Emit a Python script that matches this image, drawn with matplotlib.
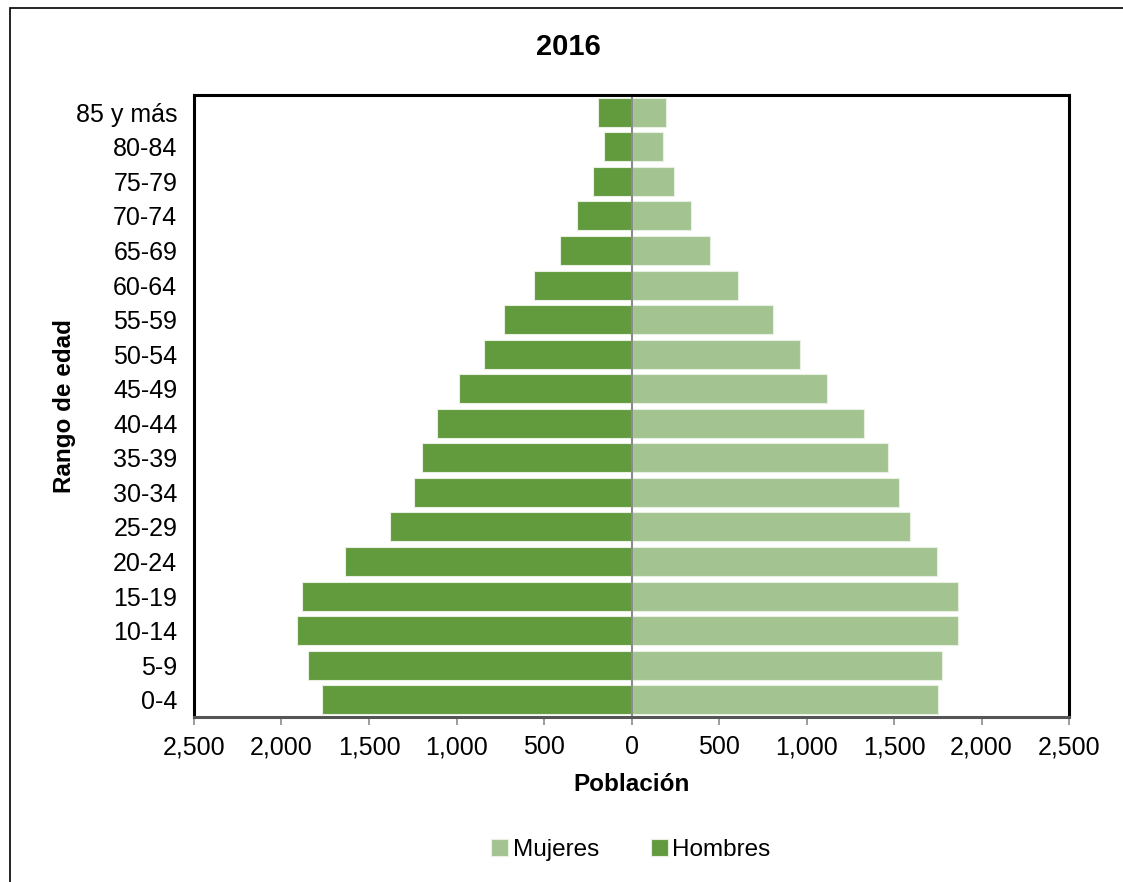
import matplotlib.pyplot as plt
import numpy as np
from matplotlib.patches import Rectangle
from matplotlib.ticker import FuncFormatter

plt.rcParams['font.family'] = ['Liberation Sans', 'DejaVu Sans']

# age groups from bottom to top
grupos = ['0-4', '5-9', '10-14', '15-19', '20-24', '25-29', '30-34', '35-39',
          '40-44', '45-49', '50-54', '55-59', '60-64', '65-69', '70-74',
          '75-79', '80-84', '85 y más']
hombres = [1769, 1851, 1914, 1880, 1639, 1380, 1244, 1200,
           1112, 986, 843, 727, 557, 406, 313, 218, 156, 190]
mujeres = [1752, 1773, 1863, 1866, 1744, 1594, 1529, 1468,
           1330, 1116, 960, 811, 607, 448, 338, 242, 179, 195]
ticks = [-2500, -2000, -1500, -1000, -500, 0, 500, 1000, 1500, 2000, 2500]

c_h = '#629a3e'
c_m = '#a3c491'

fig = plt.figure(figsize=(11.23, 8.82), dpi=100)
# outer chart border
fig.patches.append(Rectangle((10 / 1123, -0.05), 1.2, 1 - 8 / 882 + 0.05,
                             transform=fig.transFigure, fill=False,
                             edgecolor='black', linewidth=1.2))

ax = fig.add_axes([194 / 1123, 1 - 717 / 882, 875 / 1123, 622 / 882])
y = np.arange(len(grupos))
ax.barh(y, mujeres, height=0.84, color=c_m, edgecolor='#e8f0e2', linewidth=0.8, label='Mujeres')
ax.barh(y, [-v for v in hombres], height=0.84, color=c_h, edgecolor='#e8f0e2', linewidth=0.8, label='Hombres')
ax.axvline(0, color='#8c8c8c', linewidth=1.5)

ax.set_xlim(-2500, 2500)
ax.set_ylim(-0.5, len(grupos) - 0.5)
ax.set_xticks(ticks)
ax.xaxis.set_major_formatter(FuncFormatter(lambda v, p: f'{abs(int(v)):,}'))
ax.set_yticks(y)
ax.set_yticklabels(grupos)
ax.tick_params(axis='y', length=0, pad=12, labelsize=18)
ax.tick_params(axis='x', length=6, width=1.2, color='#8c8c8c', direction='out', labelsize=18, pad=7)

for s in ['top', 'right', 'left']:
    ax.spines[s].set_linewidth(2.2)
    ax.spines[s].set_color('black')
ax.spines['bottom'].set_linewidth(2.2)
ax.spines['bottom'].set_color('#555555')

ax.set_xlabel('Población', fontsize=17.5, fontweight='bold', labelpad=10)
ax.set_ylabel('Rango de edad', fontsize=17.5, fontweight='bold', labelpad=0)
fig.text(568 / 1123, 1 - 47 / 882, '2016', ha='center', va='center', fontsize=21, fontweight='bold')

fig.legend(loc='center', bbox_to_anchor=(631 / 1123, 1 - 850 / 882), ncol=2, frameon=False,
           fontsize=17.5, handlelength=0.7, handleheight=0.7, handletextpad=0.2,
           columnspacing=2.1)

fig.savefig('out.png', dpi=100)
